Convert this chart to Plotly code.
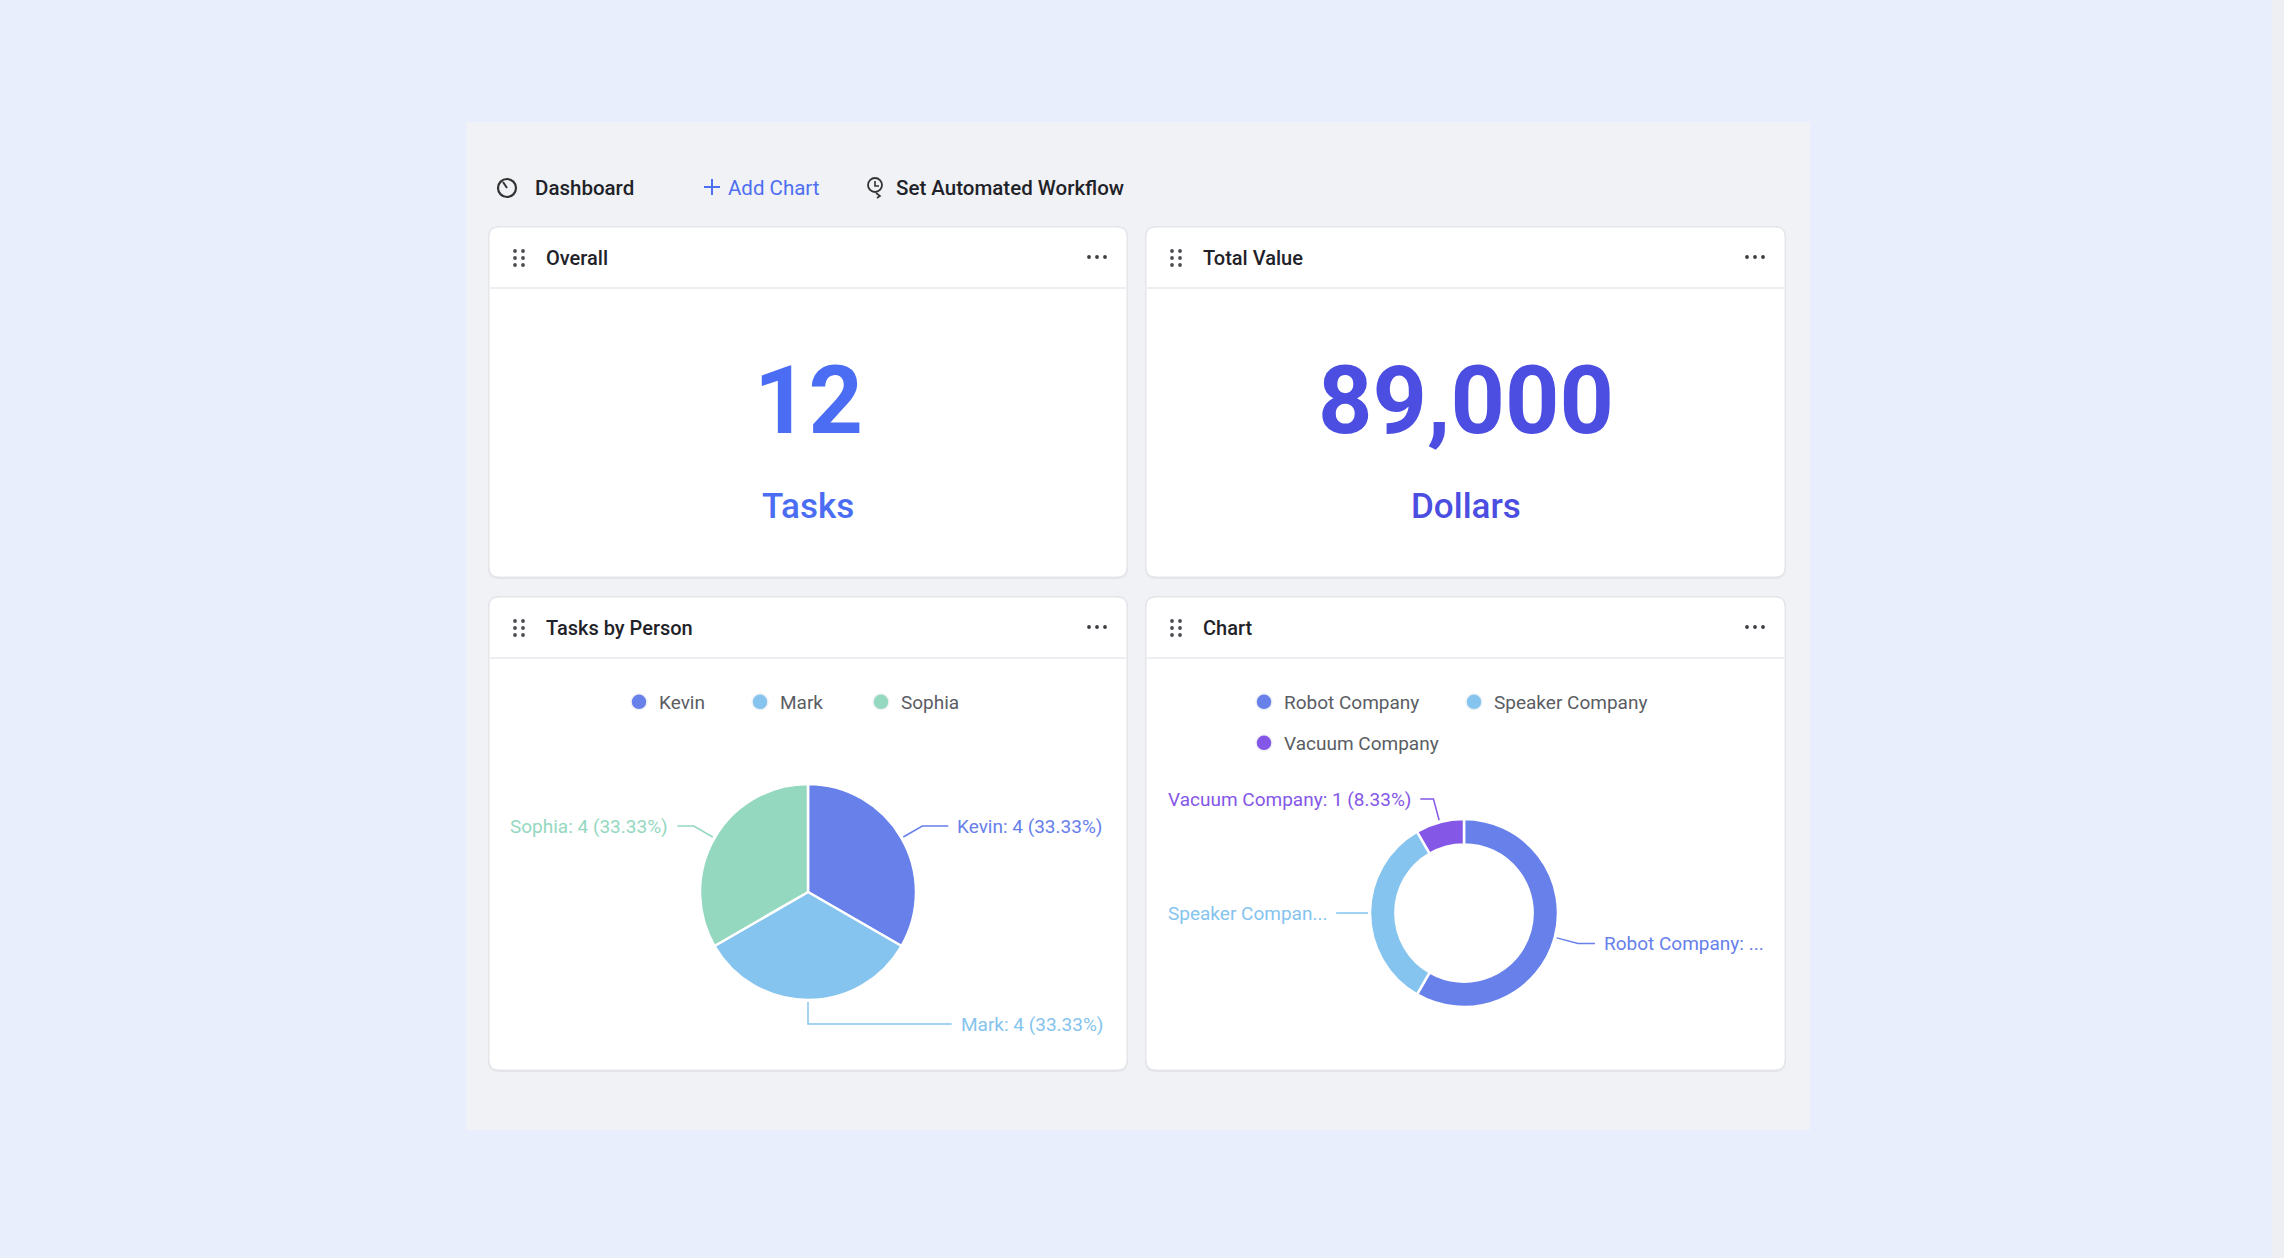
import math
import plotly.graph_objects as go

W, H = 2284, 1258

# ---- data ----
toolbar_items = ["Dashboard", "Add Chart", "Set Automated Workflow"]
card_titles = ["Overall", "Total Value", "Tasks by Person", "Chart"]
kpi_values = [12, 89000]
kpi_units = ["Tasks", "Dollars"]
kpi_colors = ["#4A6DF3", "#4B4EE0"]

people = ["Kevin", "Mark", "Sophia"]
people_tasks = [4, 4, 4]
people_colors = ["#6780EA", "#85C4EE", "#94D8BF"]

companies = ["Robot Company", "Speaker Company", "Vacuum Company"]
company_counts = [7, 4, 1]
company_colors = ["#6780EA", "#85C4EE", "#8457E6"]
company_label_cut = [15, 14, None]  # labels are shortened in the original

FONT = "Roboto, 'Noto Sans', sans-serif"
DARK = "#1F2329"
LABEL_SIZE = 19

# card boxes in pixels: x0, y0, x1, y1
cards = [(489, 227, 1127, 577), (1146, 227, 1785, 577),
         (489, 597, 1127, 1070), (1146, 597, 1785, 1070)]

fig = go.Figure()
shapes = []
annotations = []


def rrect(x0, y0, x1, y1, r):
    return (f"M{x0+r},{y0} L{x1-r},{y0} Q{x1},{y0} {x1},{y0+r} "
            f"L{x1},{y1-r} Q{x1},{y1} {x1-r},{y1} L{x0+r},{y1} "
            f"Q{x0},{y1} {x0},{y1-r} L{x0},{y0+r} Q{x0},{y0} {x0+r},{y0} Z")


def text(x, y, s, size=18, color=DARK, anchor="left", weight=400):
    annotations.append(dict(x=x, y=y, xref="x", yref="y", text=s, showarrow=False,
                            xanchor=anchor, yanchor="middle",
                            font=dict(size=size, color=color, family=FONT, weight=weight)))


def dot(x, y, r, color):
    shapes.append(dict(type="circle", x0=x - r, x1=x + r, y0=y - r, y1=y + r,
                       fillcolor=color, line=dict(width=0), layer="below"))


# rough Roboto glyph widths (em) to place the pie labels
CW = {" ": .248, "(": .342, ")": .348, ":": .242, ".": .263, "%": .733,
      "i": .243, "l": .243, "m": .876, "r": .338, "t": .327, "y": .474, "v": .484,
      "k": .507, "s": .516, "K": .628, "M": .872, "R": .63, "V": .636, "S": .593, "C": .652}


def text_width(s, size):
    w = 0
    for ch in s:
        if ch.isdigit():
            w += .562
        else:
            w += CW.get(ch, .65 if ch.isupper() else .54)
    return w * size


# page background + panel
shapes.append(dict(type="rect", x0=2272, x1=W, y0=0, y1=H, fillcolor="#EEEFF3",
                   line=dict(width=0), layer="below"))
shapes.append(dict(type="rect", x0=466, x1=1810, y0=122, y1=1130, fillcolor="#F0F2F5",
                   line=dict(width=0), layer="below"))

# toolbar
ty = 188
shapes.append(dict(type="circle", x0=498, x1=516, y0=179, y1=197,
                   line=dict(color="#333", width=2.2), layer="below"))
shapes.append(dict(type="line", x0=507, y0=188, x1=503, y1=182,
                   line=dict(color="#333", width=2), layer="below"))
text(533, ty, toolbar_items[0], size=20.5, weight=500)
shapes.append(dict(type="line", x0=704, x1=720, y0=187, y1=187,
                   line=dict(color="#4E6EF2", width=2), layer="below"))
shapes.append(dict(type="line", x0=712, x1=712, y0=179, y1=195,
                   line=dict(color="#4E6EF2", width=2), layer="below"))
text(726, ty, toolbar_items[1], size=20.5, color="#4E6EF2")
shapes.append(dict(type="circle", x0=868, x1=882, y0=178, y1=192,
                   line=dict(color="#333", width=1.8), layer="below"))
shapes.append(dict(type="path", path="M875,181 L875,186 L879,186",
                   line=dict(color="#333", width=1.6), layer="below"))
shapes.append(dict(type="path", path="M876,193 L880,196 L877,198",
                   line=dict(color="#333", width=1.6), layer="below"))
text(894, ty, toolbar_items[2], size=20.5, weight=500)

# cards
for (x0, y0, x1, y1), title in zip(cards, card_titles):
    shapes.append(dict(type="path", path=rrect(x0 - 1, y0 - 1, x1 + 1, y1 + 2, 11),
                       fillcolor="rgba(0,0,0,0.05)", line=dict(width=0), layer="below"))
    shapes.append(dict(type="path", path=rrect(x0, y0, x1, y1, 10), fillcolor="white",
                       line=dict(color="#E4E6EA", width=1), layer="below"))
    shapes.append(dict(type="line", x0=x0 + 1, x1=x1 - 1, y0=y0 + 61, y1=y0 + 61,
                       line=dict(color="#ECEEF1", width=2), layer="below"))
    hy = y0 + 31
    for dx in (0, 8):
        for dy in (-7, 0, 7):
            dot(x0 + 26 + dx, hy + dy, 1.9, "#4A4D52")
    for dx in (-8, 0, 8):
        dot(x1 - 30 + dx, hy - 1, 1.9, "#3A3D42")
    text(x0 + 55, hy, title, size=20, weight=500)

# KPI cards
for (x0, y0, x1, y1), v, unit, col in zip(cards[:2], kpi_values, kpi_units, kpi_colors):
    cx = (x0 + x1) / 2
    text(cx, y0 + 173, f"{v:,}", size=95, color=col, anchor="center", weight=700)
    text(cx, y0 + 279, unit, size=35, color=col, anchor="center", weight=500)


def add_pie(card, cx, cy, r, hole, names, values, colors, legends, cut=None):
    x0, y0, x1, y1 = card
    fig.add_trace(go.Pie(
        labels=names, values=values, sort=False, direction="clockwise", rotation=0,
        hole=hole, textinfo="none", hoverinfo="label+value+percent", showlegend=False,
        marker=dict(colors=colors, line=dict(color="white", width=2.5)),
        domain=dict(x=[(cx - r) / W, (cx + r) / W], y=[1 - (cy + r) / H, 1 - (cy - r) / H]),
    ))
    total = sum(values)
    acc = 0
    for i, (n, v, c) in enumerate(zip(names, values, colors)):
        mid = math.radians((acc + v / 2) / total * 360)
        acc += v
        dx, dy = math.sin(mid), -math.cos(mid)
        lab = f"{n}: {v} ({v / total * 100:.2f}%)"
        if cut and cut[i]:
            lab = lab[:cut[i]] + "..."
        px0, py0 = cx + (r + 2) * dx, cy + (r + 2) * dy
        px1, py1 = cx + (r + 24) * dx, cy + (r + 24) * dy
        tw = text_width(lab, LABEL_SIZE)
        if dx > -1e-9:
            end = max(x1 - 26 - tw - 7, px1 + 6)
            tx, anc = end + 7, "left"
        else:
            end = min(x0 + 25 + tw + 7, px1 - 6)
            tx, anc = end - 7, "right"
        fig.add_trace(go.Scatter(x=[px0, px1, end], y=[py0, py1, py1], mode="lines",
                                 line=dict(color=c, width=1.5), hoverinfo="skip",
                                 showlegend=False))
        text(tx, py1, lab, size=LABEL_SIZE, color=c, anchor=anc)
    for n, c, lg in zip(names, colors, legends):
        fig.add_trace(go.Scatter(x=[None], y=[None], mode="markers", name=n, legend=lg,
                                 marker=dict(size=16, color=c, line=dict(color="#F1F2F5", width=1.5))))


add_pie(cards[2], 808, 892, 108, 0, people, people_tasks, people_colors,
        ["legend", "legend", "legend"])
add_pie(cards[3], 1464, 913, 94, 0.73, companies, company_counts, company_colors,
        ["legend2", "legend2", "legend3"], cut=company_label_cut)

leg = dict(orientation="h", xanchor="left", yanchor="middle", bgcolor="rgba(0,0,0,0)",
           font=dict(size=19, color="#5A5D63", family=FONT), itemclick=False,
           entrywidthmode="pixels", tracegroupgap=0)

fig.update_layout(
    width=W, height=H, margin=dict(l=0, r=0, t=0, b=0),
    paper_bgcolor="#E8EEFB", plot_bgcolor="rgba(0,0,0,0)",
    xaxis=dict(range=[0, W], visible=False, fixedrange=True),
    yaxis=dict(range=[H, 0], visible=False, fixedrange=True),
    shapes=shapes, annotations=annotations, hovermode="closest",
    legend=dict(leg, x=619 / W, y=1 - 702 / H, entrywidth=76),
    legend2=dict(leg, x=1244 / W, y=1 - 702 / H, entrywidth=165),
    legend3=dict(leg, x=1244 / W, y=1 - 743 / H, entrywidth=165),
)

fig.write_html("out.html", config={"displayModeBar": False},
               post_script="document.body.style.margin='0';")
